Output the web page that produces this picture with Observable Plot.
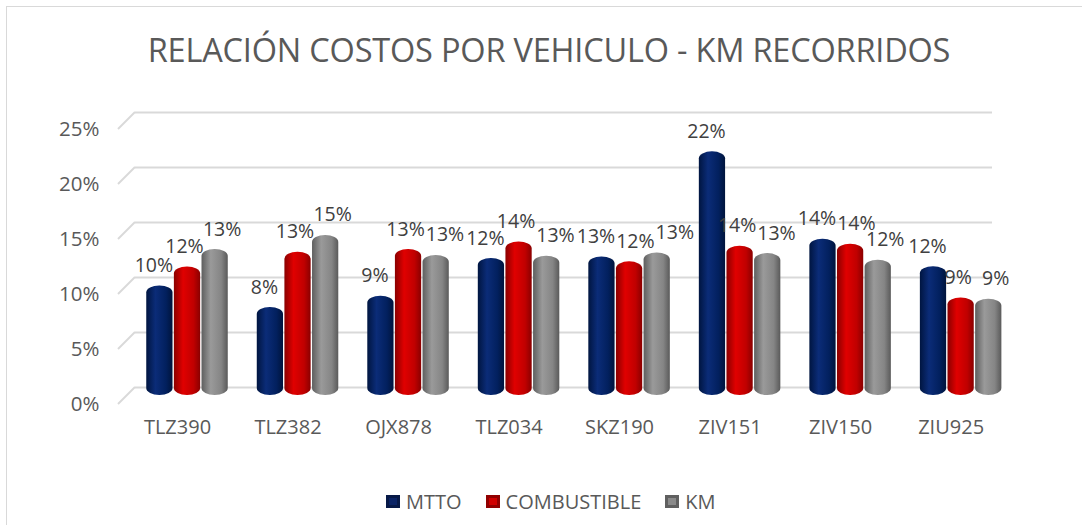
<!DOCTYPE html>
<html>
<head>
<meta charset="utf-8">
<script src="https://cdn.jsdelivr.net/npm/d3@7"></script>
<script src="https://cdn.jsdelivr.net/npm/@observablehq/plot@0.6"></script>
<style>
  html, body { margin: 0; padding: 0; background: #fff; }
  body { width: 1082px; height: 525px; overflow: hidden; position: relative; font-family: "Open Sans", sans-serif; }
  #frame { position: absolute; left: 6px; top: 6px; width: 1100px; height: 540px; border: 1.5px solid #d9d9d9; box-sizing: border-box; }
  #title { position: absolute; left: 0; top: 27px; width: 1098px; text-align: center; font-size: 32.5px; color: #595959; letter-spacing: -0.2px; white-space: nowrap; }
  #chart { position: absolute; left: 0; top: 100px; }
  #legend { position: absolute; top: 488px; left: 386px; display: flex; align-items: center; font-size: 20px; color: #595959; white-space: nowrap; }
  #legend .sw { width: 14px; height: 13px; margin-right: 6px; display: inline-block; box-sizing: border-box; }
  #legend .item { display: flex; align-items: center; margin-right: 24px; }
</style>
</head>
<body>
<svg width="0" height="0" style="position:absolute">
  <defs>
    <linearGradient id="g-mtto" x1="0" x2="1" y1="0" y2="0">
      <stop offset="0" stop-color="#001540"/>
      <stop offset="0.35" stop-color="#0b2c78"/>
      <stop offset="0.75" stop-color="#02205e"/>
      <stop offset="1" stop-color="#00143c"/>
    </linearGradient>
    <linearGradient id="g-comb" x1="0" x2="1" y1="0" y2="0">
      <stop offset="0" stop-color="#8a0000"/>
      <stop offset="0.35" stop-color="#e00000"/>
      <stop offset="0.75" stop-color="#c00000"/>
      <stop offset="1" stop-color="#8a0000"/>
    </linearGradient>
    <linearGradient id="g-km" x1="0" x2="1" y1="0" y2="0">
      <stop offset="0" stop-color="#5e5e5e"/>
      <stop offset="0.35" stop-color="#9a9a9a"/>
      <stop offset="0.75" stop-color="#858585"/>
      <stop offset="1" stop-color="#5a5a5a"/>
    </linearGradient>
  </defs>
</svg>
<div id="frame"></div>
<div id="title">RELACIÓN COSTOS POR VEHICULO - KM RECORRIDOS</div>
<div id="chart"></div>
<div id="legend"></div>
<script>
const categories = ["TLZ390", "TLZ382", "OJX878", "TLZ034", "SKZ190", "ZIV151", "ZIV150", "ZIU925"];
const seriesNames = ["MTTO", "COMBUSTIBLE", "KM"];
const mtto = [0.0996, 0.080, 0.0903, 0.1245, 0.126, 0.2215, 0.142, 0.117];
const combustible = [0.1169, 0.1303, 0.1327, 0.1396, 0.1215, 0.1357, 0.1375, 0.0887];
const km = [0.1327, 0.1455, 0.1273, 0.1266, 0.1296, 0.129, 0.123, 0.0875];
const yTicks = [0, 0.05, 0.10, 0.15, 0.20, 0.25];
const seriesFill = {MTTO: "url(#g-mtto)", COMBUSTIBLE: "url(#g-comb)", KM: "url(#g-km)"};
const seriesSwatch = {MTTO: "#0b2466", COMBUSTIBLE: "#d00000", KM: "#8a8a8a"};
const seriesLabelDx = {MTTO: -6, COMBUSTIBLE: -3, KM: 7};

const seriesValues = {MTTO: mtto, COMBUSTIBLE: combustible, KM: km};
const rows = [];
categories.forEach((c, i) => seriesNames.forEach(s => rows.push({cat: c, series: s, key: c + "|" + s, value: seriesValues[s][i]})));
const xDomain = categories.flatMap(c => [c + "|_", ...seriesNames.map(s => c + "|" + s)]);

const fmt = v => Math.round(v * 100) + "%";
const LABEL_SIZE = 19.5;
const FONT = "'Open Sans', sans-serif";
const GRID = "#d9d9d9";

// perspective stubs at the left end of each gridline (floor/back-wall look)
const gridStubs = (index, scales, values, dimensions) => {
  const y = scales && scales.y;
  if (!y) return null;
  const g = d3.create("svg:g").attr("stroke", GRID).attr("stroke-width", 2);
  const x0 = dimensions.marginLeft + 2, x1 = dimensions.marginLeft + 19;
  for (const t of yTicks) {
    g.append("line").attr("x1", x0).attr("y1", y(t) + 9).attr("x2", x1).attr("y2", y(t) - 8);
  }
  return g.node();
};

const baseMarks = [
  Plot.ruleY(yTicks, {y: d => d, stroke: GRID, strokeWidth: 2, dy: -8, insetLeft: 19, insetRight: 12}),
  gridStubs,
  ...seriesNames.map(s => Plot.barY(rows.filter(r => r.series === s), {x: "key", y: "value", fill: seriesFill[s], rx: 13, ry: 7})),
  Plot.text(categories, {x: c => c + "|COMBUSTIBLE", frameAnchor: "bottom", dy: 38, dx: -10, text: d => d, fontSize: 20, fill: "#595959"}),
  Plot.text(yTicks, {y: d => d, frameAnchor: "left", textAnchor: "end", dx: -17, dy: 9, text: fmt, fontSize: 20.5, fill: "#595959"})
];

const plotOptions = marks => ({
  width: 1082,
  height: 360,
  marginLeft: 116,
  marginRight: 78,
  marginTop: 20,
  marginBottom: 65,
  style: {fontFamily: FONT, background: "transparent", overflow: "visible"},
  x: {domain: xDomain, paddingInner: 0.05, paddingOuter: 0.095, round: false, axis: null},
  y: {domain: [0, 0.25], axis: null},
  marks
});

// First pass: read the scales to lay out the data labels without collisions.
const probe = Plot.plot(plotOptions(baseMarks));
const xs = probe.scale("x"), ys = probe.scale("y");
const ctx = document.createElement("canvas").getContext("2d");
ctx.font = `${LABEL_SIZE}px ${FONT}`;
const H = 15, ABOVE = 14, MAXSHIFT = 26;
const placed = [];
const labelMarks = rows.map(r => {
  const text = fmt(r.value);
  const w = ctx.measureText(text).width;
  const cx0 = xs.apply(r.key) + xs.bandwidth / 2;
  const by0 = ys.apply(r.value);
  let cx = cx0 + seriesLabelDx[r.series];
  let by = by0 - ABOVE;
  const hits = () => placed.find(p => Math.abs(cx - p.cx) < (w + p.w) / 2 + 0.5 && Math.abs(by - p.by) < H);
  let p, guard = 0;
  while ((p = hits()) && guard++ < 10) {
    const shift = p.cx + (w + p.w) / 2 + 1 - cx;
    if (cx + shift - cx0 <= MAXSHIFT) cx += shift;
    else by = p.by - H - 4;
  }
  placed.push({cx, by, w});
  return Plot.text([r], {x: "key", y: "value", text: () => text, dx: cx - cx0, dy: by - by0, lineAnchor: "bottom", fontSize: LABEL_SIZE, fill: "#404040"});
});

const chart = Plot.plot(plotOptions([...baseMarks, ...labelMarks]));
document.getElementById("chart").appendChild(chart);

const legend = document.getElementById("legend");
seriesNames.forEach(s => {
  const item = document.createElement("div");
  item.className = "item";
  const sw = document.createElement("span");
  sw.className = "sw";
  sw.style.background = seriesSwatch[s];
  sw.style.boxShadow = "inset 0 0 0 3px rgba(0,0,0,0.3)";
  item.appendChild(sw);
  const t = document.createElement("span");
  t.textContent = s;
  item.appendChild(t);
  legend.appendChild(item);
});
</script>
</body>
</html>
